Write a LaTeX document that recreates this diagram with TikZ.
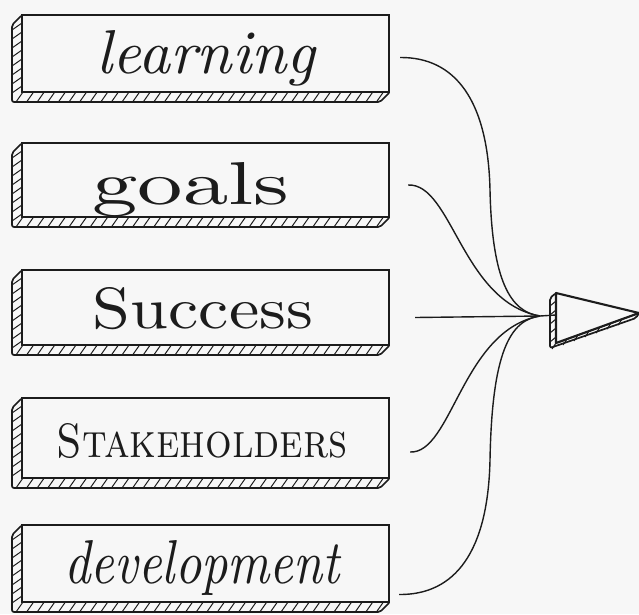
\documentclass[tikz,border=0pt]{standalone}
\usepackage{graphicx}
\definecolor{ink}{HTML}{1C1C1C}
\definecolor{paper}{HTML}{F7F7F7}

\begin{document}
\begin{tikzpicture}[x=1pt,y=-1pt,
  face/.style={draw=ink,line width=2.1pt,fill=paper,inner sep=0pt,minimum width=367pt},
  shade/.style={draw=ink,line width=1.7pt,fill=paper,rounded corners=2pt,line join=round},
  hatch/.style={draw=ink,line width=1pt},
  link/.style={draw=ink,line width=1.4pt},
  word/.style={text=ink,inner sep=0pt,anchor=base}]
  \useasboundingbox[fill=paper] (0,0) rectangle (639,614);

  % boxes with hatched shadow
  \foreach \n/\t/\u in {learnbox/15/92, goalbox/143/217, successbox/270/345, holderbox/398/478, devbox/525/602} {
    \draw[shade] (22,\t) -- ++(-10,10) -- (12,\u+10) -- (380,\u+10) -- (390,\u) -- (22,\u) -- cycle;
    \foreach \i in {0,...,34} \draw[hatch] (16+\i*10.6,\u+10) -- ++(7,-10);
    \foreach \j in {0,...,7} \draw[hatch] (12,\t+15+\j*9) -- ++(10,-7);
    \node[face,minimum height=\u-\t] (\n) at (205.5,{(\t+\u)/2}) {};
  }

  \node[word] (learning) at (206,73) {\resizebox{218pt}{43pt}{\itshape learning}};
  \node[word] (goals) at (191,204) {\resizebox{197pt}{42pt}{goals}};
  \node[word] (success) at (203,328) {\resizebox{220pt}{41pt}{Success}};
  \node[word] (holders) at (202,457) {\resizebox{291pt}{34pt}{\textsc{Stakeholders}}};
  \node[word] (development) at (202,583) {\resizebox{275pt}{43pt}{\itshape development}};

  % arrow head
  \coordinate (join) at (540,316);
  \coordinate (back) at (556,315);
  \draw[shade] (556,293) -- (550,298) -- (550,348) -- (636,318) -- (639,313) -- (556,343) -- cycle;
  \foreach \i in {0,...,6} \draw[hatch] (556+\i*11,{343-\i*11*30/83}) -- ++(-4,6);
  \foreach \j in {0,...,4} \draw[hatch] (550,306+\j*9) -- ++(6,-5);
  \draw[draw=ink,line width=2.1pt,fill=paper,line join=round] (556,293) -- (639,313) -- (556,343) -- cycle;

  % links
  \draw[link] ([shift={(10,4)}]learnbox.east) .. controls (455,57) and (488,100) .. (490,190)
    .. controls (492,280) and (510,312) .. (join);
  \draw[link] ([shift={(18,5)}]goalbox.east) .. controls (452,183) and (462,302) .. (join);
  \draw[link] ([shift={(25,10)}]successbox.east) -- (join);
  \draw[link] ([shift={(20,14)}]holderbox.east) .. controls (452,454) and (462,330) .. (join);
  \draw[link] ([shift={(9,31)}]devbox.east) .. controls (455,595) and (488,552) .. (490,460)
    .. controls (492,352) and (510,320) .. (join);
  \draw[link] (join) -- (back);
\end{tikzpicture}
\end{document}
